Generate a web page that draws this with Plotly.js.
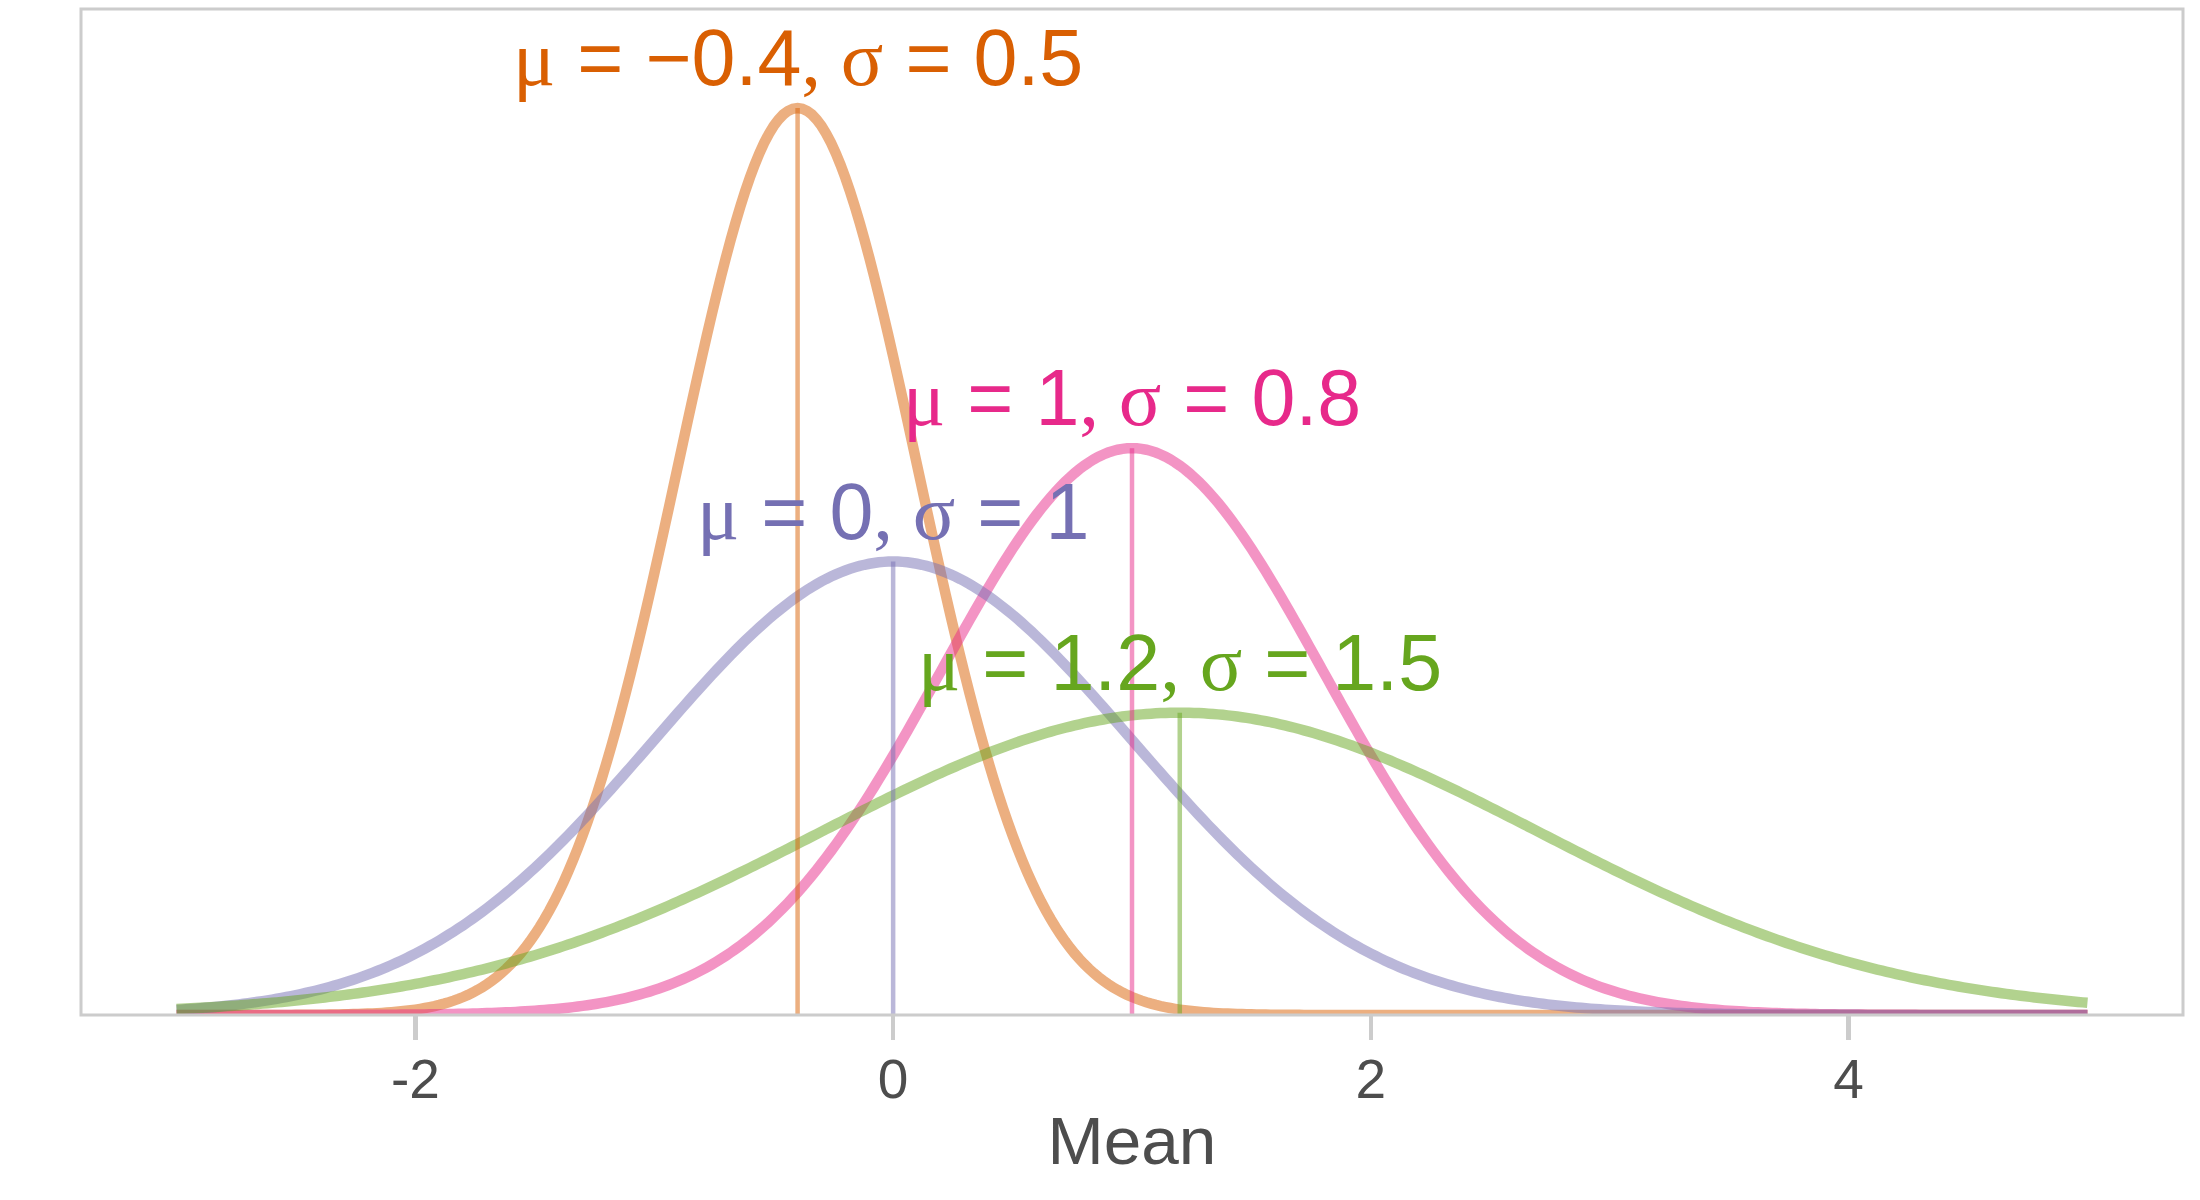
<!DOCTYPE html>
<html>
<head>
<meta charset="utf-8">
<script src="https://cdn.plot.ly/plotly-3.0.1.min.js"></script>
<style>html,body{margin:0;padding:0;background:#fff;}#chart{width:2200px;height:1200px;}</style>
</head>
<body>
<div id="chart"></div>
<script>
// Distribution parameters
const means = [-0.4, 0, 1, 1.2];
const sigmas = [0.5, 1, 0.8, 1.5];
const meanText = ["\u22120.4", "0", "1", "1.2"];
const sigmaText = ["0.5", "1", "0.8", "1.5"];
const xStart = -3, xEnd = 5;
const tickVals = [-2, 0, 2, 4];
const tickLabels = ["-2", "0", "2", "4"];

const lineColors = ["rgba(217,95,2,0.5)", "rgba(117,112,179,0.5)", "rgba(231,41,138,0.5)", "rgba(102,166,30,0.5)"];
const textColors = ["#D95F02", "#7570B3", "#E7298A", "#66A61E"];

function dnorm(x, m, s) {
  return Math.exp(-0.5 * Math.pow((x - m) / s, 2)) / (s * Math.sqrt(2 * Math.PI));
}

const nPts = 401;
const xs = [];
for (let i = 0; i < nPts; i++) xs.push(xStart + (xEnd - xStart) * i / (nPts - 1));

const order = [0, 2, 1, 3];
const traces = [];
order.forEach(k => {
  traces.push({
    type: 'scatter', mode: 'lines', x: xs, y: xs.map(x => dnorm(x, means[k], sigmas[k])),
    line: {color: lineColors[k], width: 10.5, simplify: false}, hoverinfo: 'skip'
  });
});
order.forEach(k => {
  traces.push({
    type: 'scatter', mode: 'lines', x: [means[k], means[k]], y: [0, dnorm(means[k], means[k], sigmas[k])],
    line: {color: lineColors[k], width: 4.5, simplify: false}, hoverinfo: 'skip'
  });
});

const serif = '<span style="font-family:\'Liberation Serif\',\'DejaVu Serif\',serif">';
const annotations = means.map((m, k) => ({
  x: m, y: dnorm(m, m, sigmas[k]), xref: 'x', yref: 'y',
  xanchor: 'center', yanchor: 'bottom', yshift: 4, showarrow: false,
  text: serif + '\u03bc</span> = ' + meanText[k] + serif + ', \u03c3</span> = ' + sigmaText[k],
  font: {family: 'Liberation Sans, Arial, sans-serif', size: 79, color: textColors[k]}
}));

const layout = {
  width: 2200, height: 1200,
  margin: {l: 80.5, r: 17, t: 8.7, b: 184.5, pad: 0},
  paper_bgcolor: '#fff', plot_bgcolor: '#fff',
  showlegend: false,
  font: {family: 'Liberation Sans, Arial, sans-serif', color: '#4D4D4D'},
  xaxis: {
    range: [-3.4, 5.4], showgrid: false, zeroline: false, showline: false,
    tickmode: 'array', tickvals: tickVals, ticktext: tickLabels,
    ticks: 'outside', ticklen: 24, tickwidth: 4.5, tickcolor: '#CCCCCC',
    ticklabelstandoff: -8,
    tickfont: {size: 55, color: '#4D4D4D'},
    title: {text: 'Mean', font: {size: 67.5, color: '#4D4D4D'}, standoff: 7}
  },
  yaxis: {range: [0, 0.885], visible: false, showgrid: false, zeroline: false},
  shapes: [{type: 'rect', xref: 'paper', yref: 'paper', x0: 0, x1: 1, y0: 0, y1: 1,
            line: {color: '#CCCCCC', width: 3}, layer: 'above'}],
  annotations: annotations
};

Plotly.newPlot('chart', traces, layout, {staticPlot: true, displayModeBar: false});
</script>
</body>
</html>
